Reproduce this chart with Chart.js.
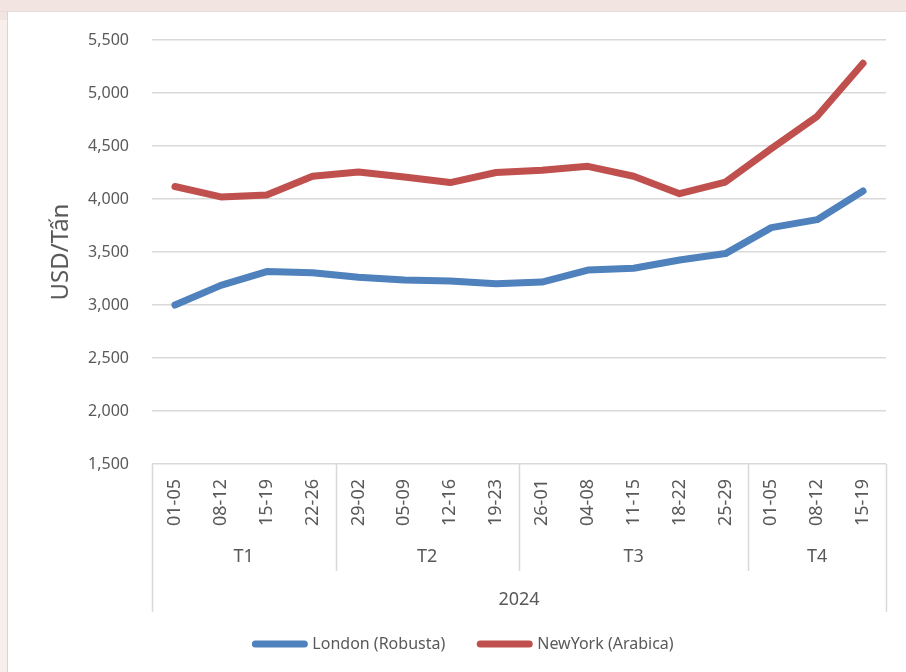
<!DOCTYPE html>
<html>
<head>
<meta charset="utf-8">
<script src="https://cdn.jsdelivr.net/npm/chart.js@4.4.1/dist/chart.umd.min.js"></script>
<style>
  html, body { margin: 0; padding: 0; background: #ffffff; width: 906px; height: 672px; overflow: hidden; }
  #topStrip { position: absolute; left: 0; top: 0; width: 906px; height: 11px; background: #f2e4e1; border-bottom: 1px solid #e6dcda; }
  #leftStrip { position: absolute; left: 0; top: 12px; width: 7px; height: 660px; background: #f8efed; border-right: 1px solid #dcd4d2; }
  #leftStripTop { position: absolute; left: 0; top: 12px; width: 7px; height: 8px; background: #f2e4e1; }
  #c { position: absolute; left: 0; top: 0; }
</style>
</head>
<body>
<div id="topStrip"></div>
<div id="leftStrip"></div>
<div id="leftStripTop"></div>
<canvas id="c" width="906" height="672"></canvas>
<script>
// ---- data ----
const categories = ['01-05','08-12','15-19','22-26','29-02','05-09','12-16','19-23','26-01','04-08','11-15','18-22','25-29','01-05','08-12','15-19'];
const quarterLabels = ['T1','T2','T3','T4'];
const quarterSizes = [4, 4, 5, 3];
const yearLabel = '2024';
const londonRobusta = [3000, 3185, 3315, 3305, 3262, 3236, 3226, 3200, 3216, 3330, 3347, 3425, 3485, 3730, 3805, 4075];
const newyorkArabica = [4118, 4020, 4038, 4215, 4255, 4208, 4155, 4250, 4272, 4308, 4215, 4050, 4160, 4475, 4780, 5280];
const yTickValues = [1500, 2000, 2500, 3000, 3500, 4000, 4500, 5000, 5500];
const seriesNames = ['London (Robusta)', 'NewYork (Arabica)'];
const yTitle = 'USD/Tấn';

const textColor = '#595959';
const lineColor = '#d9d9d9';
const FONT = '"Noto Sans", "Open Sans", sans-serif';

const groupAxisPlugin = {
  id: 'groupAxis',
  afterDraw(chart) {
    const ctx = chart.ctx;
    const xs = chart.scales.x;
    const area = chart.chartArea;
    const bottom = area.bottom;
    const half = (xs.getPixelForTick(1) - xs.getPixelForTick(0)) / 2;
    ctx.save();
    ctx.strokeStyle = lineColor;
    ctx.lineWidth = 1.5;
    const outerBottom = bottom + 148;
    const groupBottom = bottom + 107;
    [area.left, area.right].forEach(x => {
      const px = Math.round(x) + 0.5;
      ctx.beginPath(); ctx.moveTo(px, bottom); ctx.lineTo(px, outerBottom); ctx.stroke();
    });
    ctx.fillStyle = textColor;
    ctx.font = '18px ' + FONT;
    ctx.textAlign = 'center';
    ctx.textBaseline = 'middle';
    let start = 0;
    quarterSizes.forEach((n, gi) => {
      const x0 = xs.getPixelForTick(start) - half;
      const x1 = xs.getPixelForTick(start + n - 1) + half;
      if (gi > 0) {
        const px = Math.round(x0) + 0.5;
        ctx.beginPath(); ctx.moveTo(px, bottom); ctx.lineTo(px, groupBottom); ctx.stroke();
      }
      ctx.fillText(quarterLabels[gi], (x0 + x1) / 2, bottom + 93);
      start += n;
    });
    ctx.fillText(yearLabel, (area.left + area.right) / 2, bottom + 136);
    ctx.restore();
  }
};

new Chart(document.getElementById('c'), {
  type: 'line',
  data: {
    labels: categories,
    datasets: [
      {
        label: seriesNames[0],
        data: londonRobusta,
        borderColor: '#4f81bd',
        backgroundColor: '#4f81bd',
        borderWidth: 7,
        borderCapStyle: 'round',
        borderJoinStyle: 'round',
        pointRadius: 0,
        pointHoverRadius: 0,
        tension: 0
      },
      {
        label: seriesNames[1],
        data: newyorkArabica,
        borderColor: '#c0504d',
        backgroundColor: '#c0504d',
        borderWidth: 7,
        borderCapStyle: 'round',
        borderJoinStyle: 'round',
        pointRadius: 0,
        pointHoverRadius: 0,
        tension: 0
      }
    ]
  },
  options: {
    responsive: false,
    animation: false,
    devicePixelRatio: 1,
    layout: { padding: { left: 43, right: 20, top: 40, bottom: 10 } },
    plugins: {
      legend: {
        position: 'bottom',
        labels: {
          usePointStyle: true,
          pointStyle: 'line',
          pointStyleWidth: 49,
          padding: 35,
          color: textColor,
          font: { family: FONT, size: 16 },
          generateLabels(chart) {
            const items = Chart.defaults.plugins.legend.labels.generateLabels(chart);
            items.forEach(it => { it.lineCap = 'round'; it.lineWidth = 7; });
            return items;
          }
        }
      },
      tooltip: { enabled: false }
    },
    scales: {
      x: {
        type: 'category',
        offset: true,
        grid: { display: false, drawTicks: false, offset: true },
        border: { display: false },
        ticks: {
          autoSkip: false,
          minRotation: 90,
          maxRotation: 90,
          padding: 15,
          color: textColor,
          font: { family: FONT, size: 18 }
        },
        afterFit(scale) { scale.height = 137; }
      },
      y: {
        min: 1500,
        max: 5500,
        afterBuildTicks(scale) { scale.ticks = yTickValues.map(v => ({ value: v })); },
        grid: { color: lineColor, lineWidth: 1.5, drawTicks: false },
        border: { display: false },
        ticks: {
          padding: 23,
          color: textColor,
          font: { family: FONT, size: 16 },
          callback: v => Number(v).toLocaleString('en-US')
        },
        title: {
          display: true,
          text: yTitle,
          color: textColor,
          font: { family: FONT, size: 24, lineHeight: 1.1 },
          padding: { top: 5, bottom: 0 }
        },
        afterFit(scale) { scale.width = 109; }
      }
    }
  },
  plugins: [groupAxisPlugin]
});
</script>
</body>
</html>
